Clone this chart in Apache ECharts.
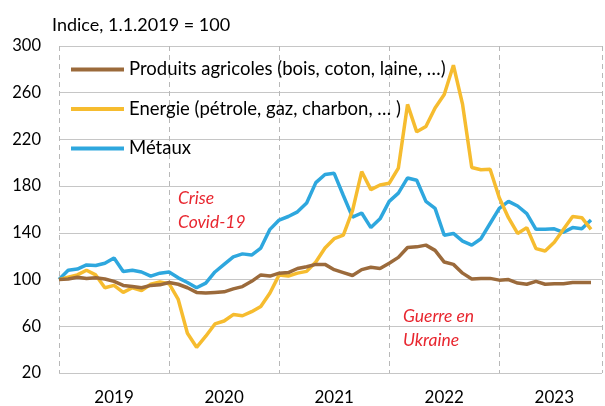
<!DOCTYPE html>
<html>
<head>
<meta charset="utf-8">
<script src="https://cdn.jsdelivr.net/npm/echarts@6/dist/echarts.min.js"></script>
<style>
  html, body { margin: 0; padding: 0; background: #fff; }
  #chart { width: 605px; height: 406px; }
</style>
</head>
<body>
<div id="chart"></div>
<script>
// monthly index, Jan 2019 .. Nov 2023 (1.1.2019 = 100)
const years = ['2019', '2020', '2021', '2022', '2023'];

const agricoles = [
  100, 100.5, 102, 101, 101.5, 100.5, 98.5, 95, 94, 93, 95, 95.5,
  97.5, 96, 93, 89, 88.5, 89, 89.5, 92, 94, 98.5, 104, 103,
  105.5, 106, 109.5, 111, 113, 113, 108.5, 106, 103.5, 108.5, 110.5, 109.5,
  114, 119, 127.5, 128, 129.5, 125, 115, 113, 105.5, 100.5, 101, 101,
  99.5, 100, 97, 96, 98.5, 96, 96.5, 96.5, 97.5, 97.5, 97.5
];

const energie = [
  100, 102, 104, 108, 104, 93, 95, 89, 93, 90.5, 96, 98,
  96.5, 83, 54, 42, 51.5, 62, 64.5, 70, 69, 72.5, 77, 88.5,
  104, 103, 105.5, 107, 115, 127, 135, 138, 159, 192.5, 177, 181,
  182.5, 195.5, 250, 226.5, 231, 247, 258.5, 283.5, 250, 196, 194, 194.5,
  170, 153, 139.5, 144.5, 126.5, 124.5, 132, 143, 154, 153, 143
];

const metaux = [
  100, 108, 109, 112.5, 112, 114, 118.5, 107, 108, 106.5, 103, 105.5,
  106.5, 101.5, 97.5, 93, 97, 106.5, 113, 119.5, 122, 121, 127, 143,
  151, 154, 158, 165.5, 183, 190, 191, 172, 153.5, 157, 144.5, 152,
  167, 174, 187, 185, 167, 161, 138, 139.5, 133, 129.5, 135, 148,
  161, 167, 163, 156.5, 143, 143, 143.5, 140.5, 144.5, 143.5, 151
];

const seriesNames = [
  'Produits agricoles (bois, coton, laine, …)',
  'Energie (pétrole, gaz, charbon, … )',
  'Métaux'
];
const colors = ['#9b6a3b', '#f6bc2f', '#2ea7de'];

const FONT = 'Lato, "Open Sans", sans-serif';
const toPairs = arr => arr.map((v, i) => [i, v]);

const chart = echarts.init(document.getElementById('chart'));

const option = {
  animation: false,
  backgroundColor: '#fff',
  textStyle: { fontFamily: FONT },
  title: {
    text: 'Indice, 1.1.2019 = 100',
    left: 47,
    top: 11,
    textStyle: { fontFamily: FONT, fontSize: 18, fontWeight: 'normal', color: '#000' }
  },
  legend: {
    orient: 'vertical',
    left: 66,
    top: 55,
    icon: 'rect',
    itemWidth: 53,
    itemHeight: 4,
    itemGap: 20.5,
    data: seriesNames,
    textStyle: { fontFamily: FONT, fontSize: 18.5, color: '#000' }
  },
  grid: { left: 59, right: 0, top: 46, bottom: 33, containLabel: false },
  xAxis: [
    {
      // dashed year separators
      type: 'value', min: 0, max: 59.2, interval: 12,
      axisLine: { show: false }, axisTick: { show: false },
      axisLabel: { show: false },
      splitLine: { show: true, lineStyle: { color: '#b8b8b8', type: [5, 4], width: 1 } }
    },
    {
      // year labels at mid-year
      type: 'value', min: 0, max: 59.2, interval: 6, position: 'bottom',
      axisLine: { show: false }, axisTick: { show: false },
      splitLine: { show: false },
      axisLabel: {
        fontFamily: FONT, fontSize: 17, color: '#000', margin: 16,
        formatter: v => (v % 12 === 6 ? years[(v - 6) / 12] : '')
      }
    }
  ],
  yAxis: {
    type: 'value', min: 20, max: 300, interval: 40,
    axisLine: { show: false }, axisTick: { show: false },
    axisLabel: { fontFamily: FONT, fontSize: 16.5, color: '#000', margin: 18 },
    splitLine: { lineStyle: { color: '#c6c6c6', width: 1.2 } }
  },
  series: [agricoles, energie, metaux].map((d, i) => ({
    name: seriesNames[i],
    type: 'line',
    xAxisIndex: 0,
    data: toPairs(d),
    showSymbol: false,
    symbol: 'none',
    color: colors[i],
    lineStyle: { width: 3.5, color: colors[i] },
    z: 3 - i
  })),
  graphic: [
    {
      type: 'text', left: 178, top: 186,
      style: {
        text: 'Crise\nCovid-19', fill: '#e8262f',
        font: 'italic 17.5px ' + FONT, lineHeight: 24
      }
    },
    {
      type: 'text', left: 403, top: 304,
      style: {
        text: 'Guerre en\nUkraine', fill: '#e8262f',
        font: 'italic 17.5px ' + FONT, lineHeight: 24
      }
    }
  ]
};

chart.setOption(option);
</script>
</body>
</html>
